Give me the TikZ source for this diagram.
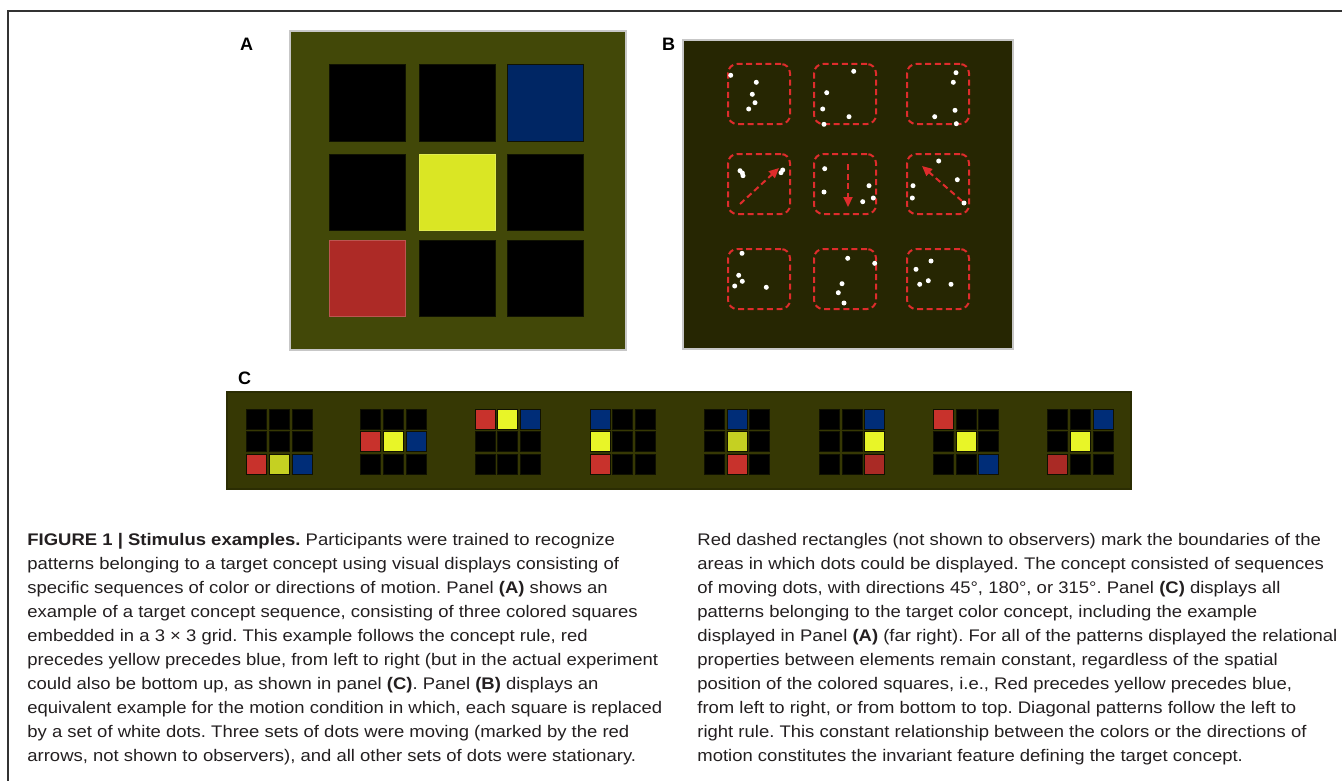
\documentclass[tikz,border=0pt]{standalone}
\usepackage{fontspec}
\setmainfont{Liberation Sans}
\newfontfamily\capfont[FakeStretch=1.1]{Liberation Sans}
\usetikzlibrary{arrows.meta}
\definecolor{bgA}{RGB}{66,72,8}
\definecolor{bgB}{RGB}{38,38,2}
\definecolor{bgC}{RGB}{54,56,4}
\definecolor{sqred}{RGB}{173,42,38}
\definecolor{sqyel}{RGB}{218,230,36}
\definecolor{sqblu}{RGB}{0,38,100}
\definecolor{mred}{RGB}{200,50,44}
\definecolor{myel}{RGB}{232,245,40}
\definecolor{mblu}{RGB}{0,45,120}
\definecolor{bnd}{RGB}{222,44,44}
\definecolor{txt}{RGB}{35,31,32}

\begin{document}
\frenchspacing
\begin{tikzpicture}[x=0.5pt,y=-0.5pt,
    panel/.style={draw=black!22,line width=0.6pt},
    cell/.style={minimum size=38pt,inner sep=0pt,fill=black,draw=black!75!bgA,line width=0.5pt},
    mini/.style={minimum size=10pt,inner sep=0pt,fill=black,draw=black!70!bgC,line width=0.4pt},
    area/.style={draw=bnd,line width=1pt,dash pattern=on 3pt off 1.8pt,rounded corners=4.5pt,
                 minimum width=31pt,minimum height=30pt,inner sep=0pt},
    mov/.style={bnd,line width=1pt,dash pattern=on 3pt off 1.8pt,-{Triangle[length=5pt,width=4.5pt]}},
    lbl/.style={font=\fontsize{9}{9}\selectfont\bfseries,anchor=base west},
    captext/.style={font=\capfont\fontsize{8.4}{12}\selectfont,txt,align=left,anchor=base west,inner sep=0pt}]

  \useasboundingbox (0,0) rectangle (1342,781);
  % frame
  \draw[black!80,line width=0.75pt] (1342,11) -- (8,11) -- (8,781);

  % panel A
  \node[lbl] (la) at (233,51) {A};
  \fill[bgA,panel] (290,31) rectangle (626,350);
  \node[cell] (a11) at (367,103) {};
  \node[cell] (a12) at (457,103) {};
  \node[cell,fill=sqblu] (a13) at (545,103) {};
  \node[cell] (a21) at (367,192) {};
  \node[cell,fill=sqyel,draw=sqyel!80!white] (a22) at (457,192) {};
  \node[cell] (a23) at (545,192) {};
  \node[cell,fill=sqred,draw=sqred!80!white] (a31) at (367,278) {};
  \node[cell] (a32) at (457,278) {};
  \node[cell] (a33) at (545,278) {};

  % panel B
  \node[lbl] (lb) at (655,51) {B};
  \fill[bgB,panel] (683,40) rectangle (1013,349);
  \node[area] (b11) at (759,94) {};
  \node[area] (b12) at (845,94) {};
  \node[area] (b13) at (938,94) {};
  \node[area] (b21) at (759,184) {};
  \node[area] (b22) at (845,184) {};
  \node[area] (b23) at (938,184) {};
  \node[area] (b31) at (759,279) {};
  \node[area] (b32) at (845,279) {};
  \node[area] (b33) at (938,279) {};
  \foreach \p in {(730.7,75.3),(756.3,82.3),(752.3,94.3),(755,102.7),(748.7,109),
                  (853.7,71.3),(826.7,92.7),(822.7,109),(849,116.7),(824,124.3),
                  (956,72.7),(953.3,82.3),(955,110.3),(934.7,116.7),(956.3,123.7),
                  (740,170.7),(742.3,173),(743,175.7),(782.7,170),(781,172.7),
                  (824.7,168.7),(824,192),(869,185.7),(873.3,198),(862.7,201.7),
                  (938.7,161),(957.3,179.7),(913,185.7),(912.3,198),(964,203),
                  (742,253.3),(738.7,275.3),(742.3,281.3),(734.7,286),(766.3,287.3),
                  (847.7,258.3),(874.7,263.3),(842,283.7),(838.3,292.7),(844,303),
                  (931,261),(916,269.3),(928.3,280.7),(919.7,284.3),(951,284.3)}
    \fill[white] \p circle (1.25pt);
  \coordinate (s1) at (740,204);
  \coordinate (e1) at (779,168);
  \coordinate (s2) at (848,164);
  \coordinate (e2) at (848,207);
  \coordinate (s3) at (962,201);
  \coordinate (e3) at (922,166);
  \draw[mov] (s1) -- (e1);
  \draw[mov] (s2) -- (e2);
  \draw[mov] (s3) -- (e3);

  % panel C
  \node[lbl] (lc) at (231,384) {C};
  \fill[bgC,draw=black!20!bgC,line width=0.6pt] (227,392) rectangle (1131,489);
  \foreach \g/\gx in {1/256.7,2/370.7,3/485,4/600,5/714.3,6/829.3,7/943.3,8/1057.7}
    \foreach \r in {1,2,3}
      \foreach \c in {1,2,3}
        \node[mini] (c\g-\r\c) at ({\gx+22.7*(\c-1)},{419+22.7*(\r-1)}) {};
  \foreach \n/\f in {c1-31/mred,c1-32/myel!85!black,c1-33/mblu,
                     c2-21/mred,c2-22/myel,c2-23/mblu,
                     c3-11/mred,c3-12/myel,c3-13/mblu,
                     c4-11/mblu,c4-21/myel,c4-31/mred,
                     c5-12/mblu,c5-22/myel!85!black,c5-32/mred,
                     c6-13/mblu,c6-23/myel,c6-33/mred!85!black,
                     c7-11/mred,c7-22/myel,c7-33/mblu,
                     c8-13/mblu,c8-22/myel,c8-31/mred!85!black}
    \node[mini,fill=\f] at (\n) {};

  % caption (anchored at the baseline of its last line)
  \node[captext] (capl) at (27,761) {\textbf{FIGURE 1 | Stimulus examples.} Participants were trained to recognize\\
    patterns belonging to a target concept using visual displays consisting of\\
    specific sequences of color or directions of motion. Panel \textbf{(A)} shows an\\
    example of a target concept sequence, consisting of three colored squares\\
    embedded in a 3 × 3 grid. This example follows the concept rule, red\\
    precedes yellow precedes blue, from left to right (but in the actual experiment\\
    could also be bottom up, as shown in panel \textbf{(C)}. Panel \textbf{(B)} displays an\\
    equivalent example for the motion condition in which, each square is replaced\\
    by a set of white dots. Three sets of dots were moving (marked by the red\\
    arrows, not shown to observers), and all other sets of dots were stationary.};
  \node[captext] (capr) at (697,761) {Red dashed rectangles (not shown to observers) mark the boundaries of the\\
    areas in which dots could be displayed. The concept consisted of sequences\\
    of moving dots, with directions 45°, 180°, or 315°. Panel \textbf{(C)} displays all\\
    patterns belonging to the target color concept, including the example\\
    displayed in Panel \textbf{(A)} (far right). For all of the patterns displayed the relational\\
    properties between elements remain constant, regardless of the spatial\\
    position of the colored squares, i.e., Red precedes yellow precedes blue,\\
    from left to right, or from bottom to top. Diagonal patterns follow the left to\\
    right rule. This constant relationship between the colors or the directions of\\
    motion constitutes the invariant feature defining the target concept.};
\end{tikzpicture}
\end{document}
